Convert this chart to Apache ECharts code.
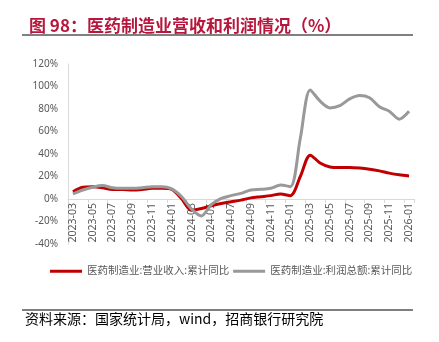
<!DOCTYPE html>
<html>
<head>
<meta charset="utf-8">
<script src="https://cdn.jsdelivr.net/npm/echarts@6/dist/echarts.min.js"></script>
<style>html,body{margin:0;padding:0;background:#fff}#c{width:439px;height:342px}</style>
</head>
<body>
<div id="c"></div>
<script>
const categories = ['2023-03','2023-04','2023-05','2023-06','2023-07','2023-08','2023-09','2023-10','2023-11','2023-12',
 '2024-01','2024-02','2024-03','2024-04','2024-05','2024-06','2024-07','2024-08','2024-09','2024-10','2024-11','2024-12',
 '2025-01','2025-02','2025-03','2025-04','2025-05','2025-06','2025-07','2025-08','2025-09','2025-10','2025-11','2025-12','2026-01'];
const revenue = [6.5,10.5,11,10,8.5,8.5,8,8.5,9.5,9.5,
 8.5,0,-10,-8.5,-6,-4,-2.5,-1,1,2,3,4.5,
 3,20,39,32,28.5,28,28,27.5,26.5,25,23,21.5,20.5];
const profit = [4.5,8,10.5,12,10,9.5,9.5,10,11,11,
 9,2,-9,-15,-5,0.5,3,5,8,8.6,9.5,12.4,
 11,54,97,87,81,83,89,92,90,82,78,71,78];
const seriesNames = ['医药制造业:营业收入:累计同比','医药制造业:利润总额:累计同比'];
const titleText = '图 98：医药制造业营收和利润情况（%）';
const sourceText = '资料来源：国家统计局，wind，招商银行研究院';

const chart = echarts.init(document.getElementById('c'));
const font = '"Noto Sans","Noto Sans CJK SC",sans-serif';
chart.setOption({
  animation: false,
  title: {
    text: titleText, left: 24, top: 12,
    textStyle: {color: '#B8163C', fontSize: 17, fontWeight: 'bold', fontFamily: '"Noto Sans CJK SC",sans-serif'}
  },
  graphic: [
    {type: 'line', shape: {x1: 22, y1: 35, x2: 413, y2: 35}, style: {stroke: '#808080', lineWidth: 2}},
    {type: 'line', shape: {x1: 22, y1: 310, x2: 413, y2: 310}, style: {stroke: '#000', lineWidth: 1.2}},
    {type: 'text', left: 25, top: 312, style: {text: sourceText, fill: '#000', fontSize: 14, fontFamily: '"Noto Sans CJK SC",sans-serif'}}
  ],
  legend: {
    left: 50, top: 266, padding: 0, itemWidth: 32, itemHeight: 3, itemGap: 4, icon: 'rect',
    textStyle: {color: '#595959', fontSize: 10.5, fontFamily: font},
    data: seriesNames
  },
  grid: {left: 68, right: 25, top: 64, bottom: 98},
  xAxis: {
    type: 'category', data: categories, boundaryGap: true,
    position: 'bottom', offset: -45,
    axisLine: {onZero: false, lineStyle: {color: '#d9d9d9', width: 1}},
    axisTick: {show: true, interval: 1, length: 4, lineStyle: {color: '#d9d9d9'}},
    axisLabel: {interval: 1, rotate: 90, color: '#595959', fontSize: 10.5, fontFamily: font, margin: 4}
  },
  yAxis: {
    type: 'value', min: -40, max: 120, interval: 20,
    axisLine: {show: true, lineStyle: {color: '#d9d9d9'}},
    axisTick: {show: false},
    splitLine: {show: false},
    axisLabel: {formatter: '{value}%', color: '#595959', fontSize: 10, fontFamily: font, margin: 10}
  },
  series: [
    {name: seriesNames[0], type: 'line', data: revenue, smooth: 0.3, symbol: 'none',
     lineStyle: {color: '#C00000', width: 3}, itemStyle: {color: '#C00000'}, z: 3},
    {name: seriesNames[1], type: 'line', data: profit, smooth: 0.3, symbol: 'none',
     lineStyle: {color: '#999999', width: 3}, itemStyle: {color: '#999999'}, z: 4}
  ]
});
</script>
</body>
</html>
